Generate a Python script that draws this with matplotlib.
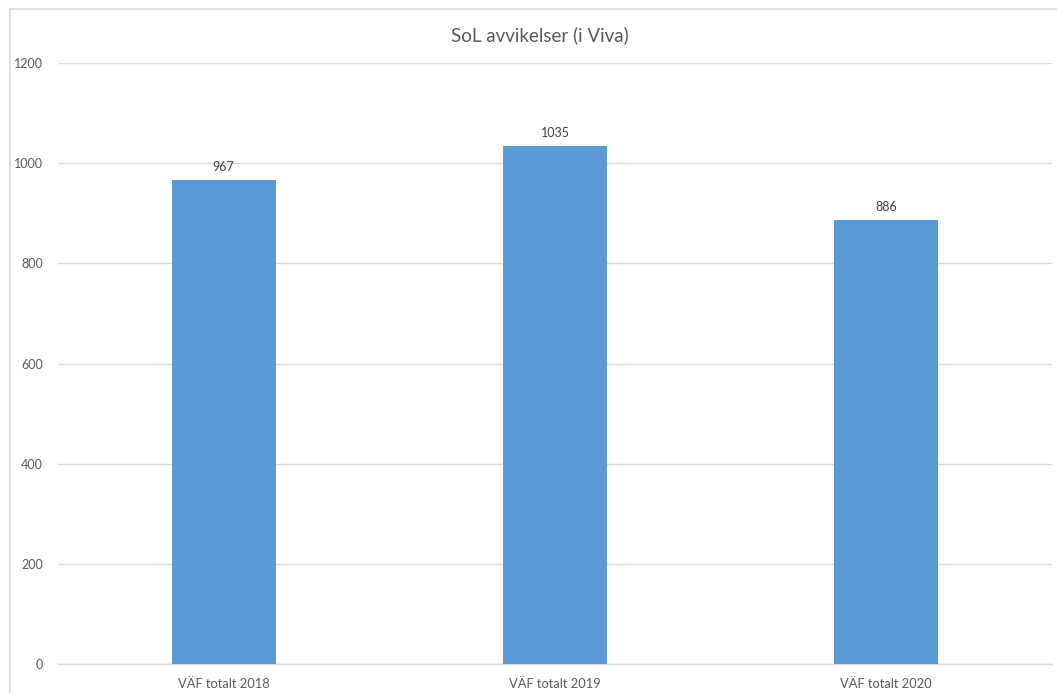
import matplotlib
matplotlib.use("Agg")
import matplotlib.pyplot as plt
from matplotlib.patches import Rectangle

categories = ["VÄF totalt 2018", "VÄF totalt 2019", "VÄF totalt 2020"]
values = [967, 1035, 886]
y_ticks = [0, 200, 400, 600, 800, 1000, 1200]
title = "SoL avvikelser (i Viva)"

plt.rcParams["font.family"] = ["Lato", "DejaVu Sans"]
text_color = "#595959"
grid_color = "#d9d9d9"
bar_color = "#5b9bd5"

W, H = 1057, 693
fig = plt.figure(figsize=(W / 100, H / 100), dpi=100)
fig.patch.set_facecolor("white")

# chart frame (left/top edges visible, runs off right and bottom)
fig.patches.append(Rectangle((10 / W, -0.05), 1.2, 1 - 9 / H + 0.05,
                             transform=fig.transFigure, fill=False,
                             edgecolor=grid_color, linewidth=1.2))

ax = fig.add_axes([58 / W, 1 - 664 / H, (1052 - 58) / W, (664 - 63) / H])
x = range(len(categories))
ax.bar(x, values, width=0.314, color=bar_color, zorder=3)
ax.set_xlim(-0.5, len(categories) - 0.5)
ax.set_ylim(0, 1200)
ax.set_yticks(y_ticks)
ax.set_yticklabels([str(t) for t in y_ticks])
ax.set_xticks(list(x))
ax.set_xticklabels(categories)
ax.tick_params(axis="y", length=0, pad=11, labelsize=9, labelcolor=text_color)
ax.tick_params(axis="x", length=0, pad=10, labelsize=9.3, labelcolor=text_color)
ax.grid(axis="y", color=grid_color, linewidth=1.0, zorder=0)
for s in ["top", "right", "left"]:
    ax.spines[s].set_visible(False)
ax.spines["bottom"].set_color(grid_color)
ax.spines["bottom"].set_linewidth(1.0)

for xi, v in zip(x, values):
    ax.annotate(str(v), (xi, v), xytext=(0, 5), textcoords="offset points",
                ha="center", va="bottom", fontsize=9, color="#404040")

fig.text(540 / W, 1 - 35 / H, title, ha="center", va="center",
         fontsize=13.5, color=text_color)

fig.savefig("out.png", dpi=100)
